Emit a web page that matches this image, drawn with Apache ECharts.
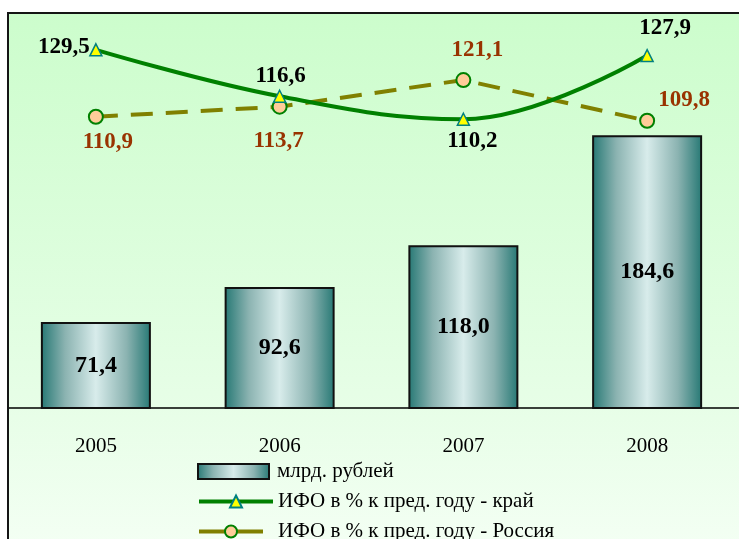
<!DOCTYPE html>
<html>
<head>
<meta charset="utf-8">
<script src="https://cdn.jsdelivr.net/npm/echarts@6/dist/echarts.min.js"></script>
<style>
html,body{margin:0;padding:0;background:#fff;}
#c{width:739px;height:539px;}
</style>
</head>
<body>
<div id="c"></div>
<script>
const years = ['2005', '2006', '2007', '2008'];
const billions = [71.4, 92.6, 118.0, 184.6];
const kray = [129.5, 116.6, 110.2, 127.9];
const russia = [110.9, 113.7, 121.1, 109.8];
const seriesNames = ['млрд. рублей', 'ИФО в % к пред. году - край', 'ИФО в % к пред. году - Россия'];

// label placement (style only)
const krayOffsets = [[-32, -3], [1, -20], [9, 22], [18, -27]];
const russiaOffsets = [[12, 25], [-1, 34], [14, -30], [37, -21]];

const FONT = "'Liberation Serif', 'Times New Roman', serif";
const fmt = v => v.toFixed(1).replace('.', ',');

const chart = echarts.init(document.getElementById('c'));
const barGrad = new echarts.graphic.LinearGradient(0, 0, 1, 0, [
  {offset: 0, color: '#267874'},
  {offset: 0.22, color: '#8bb3b1'},
  {offset: 0.5, color: '#d8eceb'},
  {offset: 0.78, color: '#8bb3b1'},
  {offset: 1, color: '#267874'}
]);

const legendText = {fontFamily: FONT, fontSize: 21, color: '#000'};
function oneLegend(name, top, extra) {
  return Object.assign({
    orient: 'vertical', left: 197, top: top, padding: 0,
    itemWidth: 74, itemHeight: 15,
    textStyle: legendText,
    data: [name]
  }, extra || {});
}

chart.setOption({
  animation: false,
  backgroundColor: '#ffffff',
  graphic: [
    {type: 'rect', z: -10, silent: true,
      shape: {x: 8, y: 13, width: 740, height: 540},
      style: {fill: new echarts.graphic.LinearGradient(0, 0, 0, 1, [
        {offset: 0, color: '#ccfdcc'},
        {offset: 0.73, color: '#e7fee7'},
        {offset: 1, color: '#f4fff4'}
      ]), stroke: null}},
    {type: 'rect', z: 100, silent: true,
      shape: {x: 0, y: 0, width: 7, height: 539},
      style: {fill: '#ffffff'}},
    {type: 'polyline', z: 101, silent: true,
      shape: {points: [[8, 539], [8, 13], [739, 13]]},
      style: {stroke: '#151515', lineWidth: 2, fill: null}}
  ],
  grid: {left: 4, top: 12, width: 736, bottom: 131, containLabel: false},
  legend: [
    oneLegend(seriesNames[0], 461, {itemWidth: 71, data: [{name: seriesNames[0], icon: 'rect'}],
      textStyle: Object.assign({}, legendText, {padding: [0, 0, 0, 3]})}),
    oneLegend(seriesNames[1], 491, {
      data: [{name: seriesNames[1], lineStyle: {width: 4}}]}),
    oneLegend(seriesNames[2], 521, {itemWidth: 64,
      data: [{name: seriesNames[2], lineStyle: {type: 'solid', width: 4}}],
      textStyle: Object.assign({}, legendText, {padding: [0, 0, 0, 10]})})
  ],
  xAxis: {
    type: 'category', data: years,
    axisLine: {lineStyle: {color: '#000', width: 1.5}},
    axisTick: {show: false},
    axisLabel: {fontFamily: FONT, fontSize: 21, color: '#000', margin: 28}
  },
  yAxis: [
    {type: 'value', min: 19.25, max: 259.4, show: false, splitLine: {show: false}},
    {type: 'value', min: 30, max: 140, show: false, splitLine: {show: false}}
  ],
  series: [
    {
      name: seriesNames[0], type: 'bar', yAxisIndex: 0, barWidth: 110,
      data: billions,
      itemStyle: {color: barGrad, borderColor: '#111', borderWidth: 2},
      label: {show: true, position: 'inside', formatter: p => fmt(p.value),
        fontFamily: FONT, fontSize: 24, fontWeight: 'bold', color: '#000'},
      z: 2
    },
    {
      name: seriesNames[1], type: 'line', yAxisIndex: 1, smooth: 0.4,
      data: kray.map((v, i) => ({value: v, label: {offset: krayOffsets[i]}})),
      lineStyle: {color: '#008000', width: 4},
      symbol: 'triangle', symbolSize: 12,
      itemStyle: {color: '#ffff00', borderColor: '#008080', borderWidth: 1.5},
      label: {show: true, position: 'inside', formatter: p => fmt(p.value),
        fontFamily: FONT, fontSize: 23, fontWeight: 'bold', color: '#000'},
      z: 4
    },
    {
      name: seriesNames[2], type: 'line', yAxisIndex: 1, smooth: false,
      data: russia.map((v, i) => ({value: v, label: {offset: russiaOffsets[i]}})),
      lineStyle: {color: '#808000', width: 4, type: [22, 13]},
      symbol: 'circle', symbolSize: 14,
      itemStyle: {color: '#ffcc99', borderColor: '#008000', borderWidth: 2},
      label: {show: true, position: 'inside', formatter: p => fmt(p.value),
        fontFamily: FONT, fontSize: 23, fontWeight: 'bold', color: '#993300'},
      z: 3
    }
  ]
});
</script>
</body>
</html>
